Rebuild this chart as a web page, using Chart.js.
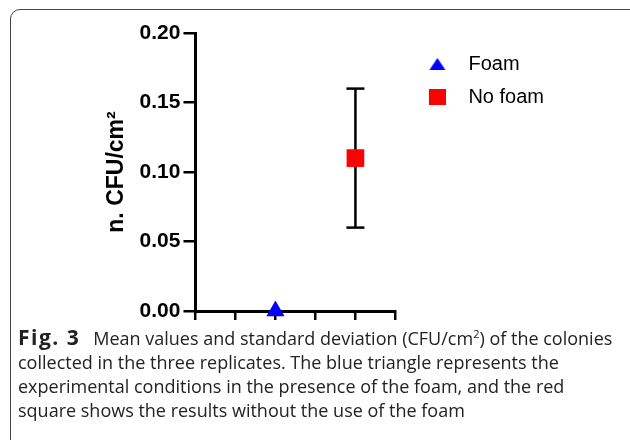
<!DOCTYPE html>
<html>
<head>
<meta charset="utf-8">
<script src="https://cdn.jsdelivr.net/npm/chart.js@4/dist/chart.umd.min.js"></script>
<style>
  html, body { margin: 0; padding: 0; width: 630px; height: 440px; overflow: hidden; background: #fff; }
  .frame {
    position: absolute; left: 10px; top: 9px; width: 660px; height: 460px;
    border: 1.5px solid #444; border-radius: 10px; box-sizing: border-box;
  }
  #wrap { position: absolute; left: 0; top: 0; width: 630px; height: 330px; }
  .caption {
    position: absolute; left: 18px; top: 326px; white-space: nowrap;
    font-family: "Open Sans", sans-serif; font-size: 18px; line-height: 24px; color: #222;
  }
  .caption b { font-size: 21px; letter-spacing: 1.5px; line-height: 0; margin-right: 13px; }
  .caption sup { font-size: 11px; line-height: 0; }
</style>
</head>
<body>
<div class="frame"></div>
<div id="wrap"><canvas id="mainChart"></canvas></div>
<div class="caption">
  <b>Fig. 3</b>Mean values and standard deviation (CFU/cm<sup>2</sup>) of the colonies<br>
  collected in the three replicates. The blue triangle represents the<br>
  experimental conditions in the presence of the foam, and the red<br>
  square shows the results without the use of the foam
</div>
<script>
// groups (x position on the axis) and their means / SD
var groups = ['Foam', 'No foam'];
var xPos = [2, 4];
var means = [0, 0.11];
var sds = [0, 0.05];
var xTicks = [0, 1, 2, 3, 4, 5];
var yTicks = [0, 0.05, 0.10, 0.15, 0.20];

// small canvases used as legend markers (a little blank space on the left nudges them right)
function makeMarker(kind, color) {
    var c = document.createElement('canvas');
    var ctx = c.getContext('2d');
    var off = 8;
    ctx.fillStyle = color;
    if (kind === 'triangle') {
        c.width = 18 + off; c.height = 14;
        ctx.fillStyle = color;
        ctx.beginPath();
        ctx.moveTo(off + 9, 1); ctx.lineTo(off + 17, 13); ctx.lineTo(off + 1, 13);
        ctx.closePath(); ctx.fill();
    } else {
        c.width = 17 + off; c.height = 16;
        ctx.fillStyle = color;
        ctx.fillRect(off, 0, 17, 16);
    }
    return c;
}
var legendMarkers = [makeMarker('triangle', '#0000ff'), makeMarker('rect', '#ff0000')];

// error bar from mean-sd to mean+sd, caps drawn with the 'line' point style
var errData = [
    {x: xPos[1], y: means[1] - sds[1]},
    {x: xPos[1], y: means[1] + sds[1]}
];

Chart.defaults.font.family = '"Liberation Sans", Arial, sans-serif';
Chart.defaults.color = '#000';

var ctx = document.getElementById('mainChart').getContext('2d');
var chart = new Chart(ctx, {
    type: 'scatter',
    data: {
        datasets: [{
            label: groups[0],
            data: [{x: xPos[0], y: means[0]}],
            pointStyle: 'triangle',
            pointRadius: 10.5,
            backgroundColor: '#0000ff',
            borderColor: '#0000ff',
            borderWidth: 0,
            clip: false,
            order: 0
        }, {
            label: groups[1],
            data: [{x: xPos[1], y: means[1]}],
            pointStyle: 'rect',
            pointRadius: 12.5,
            backgroundColor: '#ff0000',
            borderColor: '#ff0000',
            borderWidth: 0,
            clip: false,
            order: 0
        }, {
            label: 'sd',
            data: errData,
            showLine: true,
            pointStyle: 'line',
            pointRadius: 9,
            borderColor: '#000',
            backgroundColor: '#000',
            borderWidth: 2.5,
            pointBorderWidth: 2.5,
            clip: false,
            order: 2
        }]
    },
    options: {
        responsive: true,
        maintainAspectRatio: false,
        animation: false,
        layout: { padding: { left: 101, right: 76, top: 33, bottom: 10 } },
        plugins: {
            tooltip: { enabled: false },
            legend: {
                position: 'right',
                align: 'start',
                maxWidth: 175,
                title: { display: true, text: '', font: { size: 5, lineHeight: 1 }, padding: { top: 3, bottom: 0 } },
                labels: {
                    usePointStyle: true,
                    pointStyleWidth: 50,
                    padding: 13,
                    color: '#000',
                    font: { size: 20 },
                    filter: function(item) { return item.datasetIndex < 2; },
                    generateLabels: function(chart) {
                        var items = Chart.defaults.plugins.legend.labels.generateLabels(chart);
                        items.forEach(function(it) {
                            if (it.datasetIndex < 2) it.pointStyle = legendMarkers[it.datasetIndex];
                        });
                        return items;
                    }
                }
            }
        },
        scales: {
            x: {
                type: 'linear',
                min: xTicks[0],
                max: xTicks[xTicks.length - 1],
                afterBuildTicks: function(axis) {
                    axis.ticks = xTicks.map(function(v) { return {value: v}; });
                },
                ticks: { display: false },
                grid: { drawOnChartArea: false, drawTicks: true, tickLength: 9, color: '#000', lineWidth: 2.5 },
                border: { color: '#000', width: 3 }
            },
            y: {
                min: yTicks[0],
                max: yTicks[yTicks.length - 1],
                afterBuildTicks: function(axis) {
                    axis.ticks = yTicks.map(function(v) { return {value: v}; });
                },
                ticks: {
                    padding: 3,
                    font: { size: 21, weight: 'bold' },
                    color: '#000',
                    callback: function(v) { return v.toFixed(2); }
                },
                grid: { drawOnChartArea: false, drawTicks: true, tickLength: 12, color: '#000', lineWidth: 2.5 },
                border: { color: '#000', width: 3 },
                title: {
                    display: true,
                    text: 'n. CFU/cm²',
                    font: { size: 23, weight: 'bold' },
                    color: '#000',
                    padding: { top: 2, bottom: 6 }
                }
            }
        }
    }
});
</script>
</body>
</html>
